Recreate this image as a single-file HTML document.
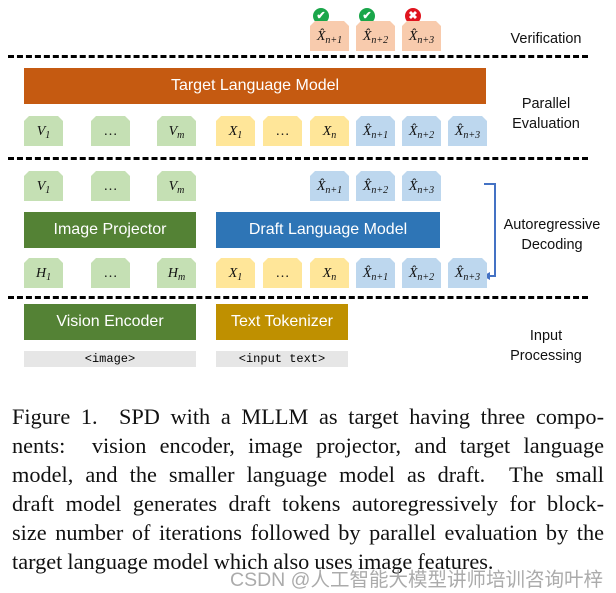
<!DOCTYPE html>
<html><head><meta charset="utf-8"><style>
body{margin:0;width:616px;height:593px;background:#fff;position:relative;overflow:hidden;font-family:"Liberation Sans",sans-serif}
.a{position:absolute}
.t{position:absolute;width:39px;height:30px;clip-path:polygon(5px 0,34px 0,39px 5px,39px 30px,0 30px,0 5px);font-family:"Liberation Serif",serif;font-style:italic;font-size:14px;text-align:center;line-height:32px;color:#111}
.t sub{font-size:10px;font-style:italic;vertical-align:-3px;line-height:0}
.g{background:#c5e0b4}.y{background:#ffe699}.b{background:#bdd7ee}.o{background:#f8cbad}
.d{position:absolute;left:8px;width:580px;border-top:3px dashed #000;height:0}
.bar{position:absolute;color:#fff;font-size:16px;text-align:center;line-height:36px;height:36px}
.lab{position:absolute;font-size:14.5px;text-align:center;line-height:20px;color:#111;width:110px}
.gr{position:absolute;background:#e6e6e6;height:16px;font-family:"Liberation Mono",monospace;font-size:12px;text-align:center;line-height:16px}
.c{position:absolute;width:16px;height:16px;border-radius:50%;color:#fff;font-size:11px;font-weight:bold;text-align:center;line-height:16px}
.cap{position:absolute;left:12px;width:592px;font-family:"Liberation Serif",serif;font-size:22.3px;color:#111;text-align:justify;text-align-last:justify;white-space:nowrap;line-height:29px;height:29px;word-spacing:-0.5px}
</style></head><body>
<div class="c" style="left:313px;top:8px;background:#1aa64a">✔</div>
<div class="c" style="left:359px;top:8px;background:#1aa64a">✔</div>
<div class="c" style="left:405px;top:8px;background:#e0141e">✖</div>
<div class="t o" style="left:310px;top:21px">X̂<sub>n+1</sub></div>
<div class="t o" style="left:356px;top:21px">X̂<sub>n+2</sub></div>
<div class="t o" style="left:402px;top:21px">X̂<sub>n+3</sub></div>
<div class="lab" style="left:491px;top:29px">Verification</div>
<div class="d" style="top:55px"></div>
<div class="bar" style="left:24px;top:68px;width:462px;background:#c55a11">Target Language Model</div>
<div class="lab" style="left:491px;top:94px">Parallel<br>Evaluation</div>
<div class="t g" style="left:24px;top:116px">V<sub>1</sub></div>
<div class="t g" style="left:91px;top:116px;font-style:normal">…</div>
<div class="t g" style="left:157px;top:116px">V<sub>m</sub></div>
<div class="t y" style="left:216px;top:116px">X<sub>1</sub></div>
<div class="t y" style="left:263px;top:116px;font-style:normal">…</div>
<div class="t y" style="left:310px;top:116px">X<sub>n</sub></div>
<div class="t b" style="left:356px;top:116px">X̂<sub>n+1</sub></div>
<div class="t b" style="left:402px;top:116px">X̂<sub>n+2</sub></div>
<div class="t b" style="left:448px;top:116px">X̂<sub>n+3</sub></div>
<div class="d" style="top:157px"></div>
<div class="t g" style="left:24px;top:171px">V<sub>1</sub></div>
<div class="t g" style="left:91px;top:171px;font-style:normal">…</div>
<div class="t g" style="left:157px;top:171px">V<sub>m</sub></div>
<div class="t b" style="left:310px;top:171px">X̂<sub>n+1</sub></div>
<div class="t b" style="left:356px;top:171px">X̂<sub>n+2</sub></div>
<div class="t b" style="left:402px;top:171px">X̂<sub>n+3</sub></div>
<div class="bar" style="left:24px;top:212px;width:172px;background:#548235">Image Projector</div>
<div class="bar" style="left:216px;top:212px;width:224px;background:#2e75b6">Draft Language Model</div>
<div class="lab" style="left:497px;top:215px">Autoregressive<br>Decoding</div>
<svg class="a" style="left:480px;top:178px" width="24" height="106"><path d="M4 6 H15 V98 H9" fill="none" stroke="#4472c4" stroke-width="2"/><path d="M3 98 L10 94 L10 102 Z" fill="#4472c4"/></svg>
<div class="t g" style="left:24px;top:258px">H<sub>1</sub></div>
<div class="t g" style="left:91px;top:258px;font-style:normal">…</div>
<div class="t g" style="left:157px;top:258px">H<sub>m</sub></div>
<div class="t y" style="left:216px;top:258px">X<sub>1</sub></div>
<div class="t y" style="left:263px;top:258px;font-style:normal">…</div>
<div class="t y" style="left:310px;top:258px">X<sub>n</sub></div>
<div class="t b" style="left:356px;top:258px">X̂<sub>n+1</sub></div>
<div class="t b" style="left:402px;top:258px">X̂<sub>n+2</sub></div>
<div class="t b" style="left:448px;top:258px">X̂<sub>n+3</sub></div>
<div class="d" style="top:296px"></div>
<div class="bar" style="left:24px;top:304px;width:172px;background:#548235">Vision Encoder</div>
<div class="bar" style="left:216px;top:304px;width:132px;background:#bf9000">Text Tokenizer</div>
<div class="lab" style="left:491px;top:326px">Input<br>Processing</div>
<div class="gr" style="left:24px;top:351px;width:172px">&lt;image&gt;</div>
<div class="gr" style="left:216px;top:351px;width:132px">&lt;input text&gt;</div>
<div class="cap" style="top:402px">Figure 1.&nbsp; SPD with a MLLM as target having three compo-</div>
<div class="cap" style="top:431px">nents:&nbsp; vision encoder, image projector, and target language</div>
<div class="cap" style="top:460px">model, and the smaller language model as draft.&nbsp; The small</div>
<div class="cap" style="top:489px">draft model generates draft tokens autoregressively for block-</div>
<div class="cap" style="top:518px">size number of iterations followed by parallel evaluation by the</div>
<div class="cap" style="top:547px;text-align-last:left">target language model which also uses image features.</div>
<div class="a" style="left:230px;top:563px;font-family:'Liberation Sans','Noto Sans CJK SC',sans-serif;font-size:19.5px;color:rgba(150,150,150,0.8)">CSDN @人工智能大模型讲师培训咨询叶梓</div>
</body></html>
